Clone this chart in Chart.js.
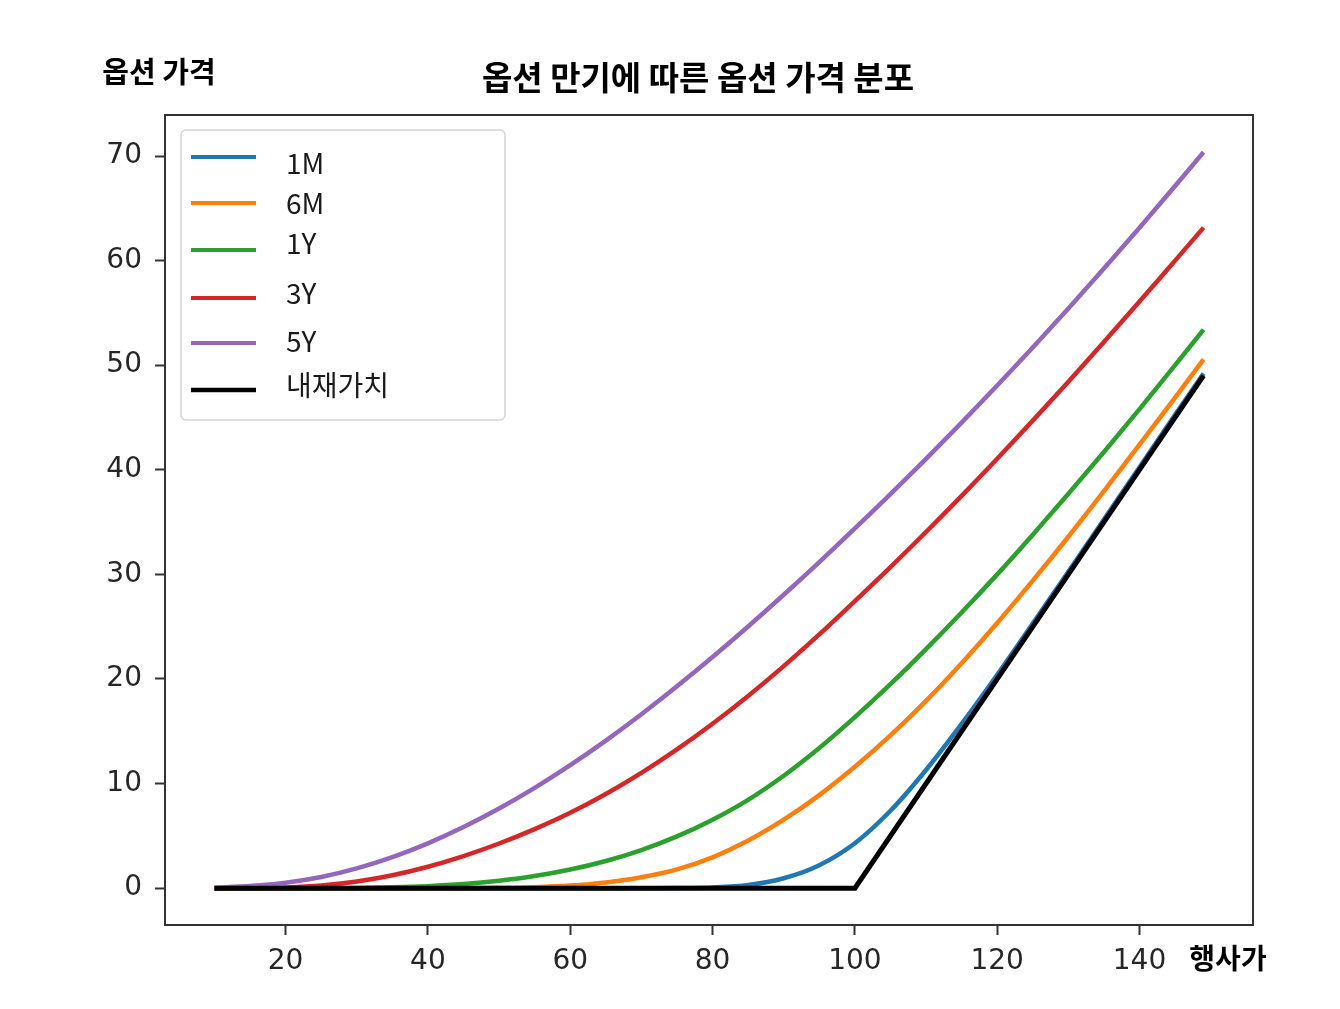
<!DOCTYPE html>
<html>
<head>
<meta charset="utf-8">
<script src="https://cdn.jsdelivr.net/npm/chart.js@4.4.1/dist/chart.umd.min.js"></script>
<style>
  html, body { margin: 0; padding: 0; background: #fff; }
  #optionChart { display: block; }
</style>
</head>
<body>
<canvas id="optionChart" width="1340" height="1009"></canvas>
<script>
// x values (strike) and option prices per maturity
const strikes = [10, 15, 20, 25, 30, 35, 40, 45, 50, 55, 60, 65, 70, 75, 80, 85, 90, 95, 100, 105, 110, 115, 120, 125, 130, 135, 140, 145, 149];
const price1M = [0, 0, 0, 0, 0, 0, 0, 0, 0, 0, 0, 0, 0, 0.01, 0.07, 0.3, 0.95, 2.2, 4.3, 7.4, 11.3, 15.7, 20.4, 25.3, 30.25, 35.25, 40.25, 45.25, 49.2];
const price6M = [0, 0, 0, 0, 0, 0, 0, 0.01, 0.03, 0.1, 0.25, 0.55, 1.05, 1.8, 2.95, 4.55, 6.55, 8.9, 11.6, 14.6, 17.9, 21.5, 25.35, 29.4, 33.6, 37.95, 42.4, 46.9, 50.55];
const price1Y = [0, 0, 0, 0, 0.02, 0.08, 0.19, 0.39, 0.71, 1.16, 1.78, 2.6, 3.65, 4.95, 6.55, 8.45, 10.75, 13.4, 16.35, 19.5, 22.85, 26.35, 30.0, 33.8, 37.7, 41.7, 45.8, 50.0, 53.4];
const price3Y = [0, 0.01, 0.07, 0.25, 0.63, 1.23, 2.05, 3.07, 4.27, 5.65, 7.21, 9.01, 11.03, 13.27, 15.72, 18.38, 21.23, 24.26, 27.45, 30.7, 34.05, 37.5, 41.05, 44.7, 48.42, 52.22, 56.08, 60.0, 63.15];
const price5Y = [0.05, 0.2, 0.52, 1.07, 1.89, 2.97, 4.29, 5.84, 7.61, 9.59, 11.76, 14.11, 16.63, 19.3, 22.1, 25.02, 28.05, 31.18, 34.4, 37.68, 41.05, 44.51, 48.06, 51.7, 55.43, 59.25, 63.15, 67.13, 70.37];

// intrinsic value: flat, then rising past 100
const intrinsicX = [10, 100, 149];
const intrinsicY = [0, 0, 49];

const seriesLabels = ['1M', '6M', '1Y', '3Y', '5Y', '내재가치'];
const seriesColors = ['#1f77b4', '#ff7f0e', '#2ca02c', '#d62728', '#9467bd', '#000000'];

const xTicks = [20, 40, 60, 80, 100, 120, 140];
const yTicks = [0, 10, 20, 30, 40, 50, 60, 70];

const chartTitle = '옵션 만기에 따른 옵션 가격 분포';
const yAxisLabel = '옵션 가격';
const xAxisLabel = '행사가';

function toPoints(xs, ys) {
    return xs.map((x, i) => ({ x: x, y: ys[i] }));
}

const priceSeries = [price1M, price6M, price1Y, price3Y, price5Y];

const datasets = priceSeries.map((ys, i) => ({
    label: seriesLabels[i],
    data: toPoints(strikes, ys),
    borderColor: seriesColors[i],
    borderWidth: 4.5,
    order: 5 - i   // later maturities drawn above earlier ones
}));

datasets.push({
    label: seriesLabels[5],
    data: toPoints(intrinsicX, intrinsicY),
    borderColor: seriesColors[5],
    borderWidth: 5,
    cubicInterpolationMode: 'default',
    tension: 0,
    order: 0
});

// Box around the plot area, like matplotlib spines
const framePlugin = {
    id: 'frame',
    afterDatasetsDraw(chart) {
        const { ctx, chartArea: a } = chart;
        ctx.save();
        ctx.strokeStyle = '#333333';
        ctx.lineWidth = 2;
        ctx.strokeRect(a.left, a.top, a.right - a.left, a.bottom - a.top);
        ctx.restore();
    }
};

// Legend inside the upper-left corner of the axes
const legendPlugin = {
    id: 'innerLegend',
    afterDatasetsDraw(chart) {
        const { ctx, chartArea: a } = chart;
        const bx = a.left + 16, by = a.top + 15, bw = 324, bh = 290;
        ctx.save();
        ctx.beginPath();
        ctx.roundRect(bx, by, bw, bh, 5);
        ctx.fillStyle = 'rgba(255,255,255,0.8)';
        ctx.fill();
        ctx.strokeStyle = '#d5d5d5';
        ctx.lineWidth = 1.5;
        ctx.stroke();

        // line sample y / text y offsets from the axes top
        const rows = [[42, 48], [88, 88], [135, 128], [183, 178], [228, 226], [275, 270]];
        ctx.font = "28px 'Noto Sans CJK KR', 'Noto Sans', sans-serif";
        ctx.textAlign = 'left';
        ctx.textBaseline = 'middle';
        chart.data.datasets.forEach((ds, i) => {
            const [ly, ty] = rows[i];
            ctx.beginPath();
            ctx.moveTo(a.left + 26, a.top + ly);
            ctx.lineTo(a.left + 91, a.top + ly);
            ctx.strokeStyle = ds.borderColor;
            ctx.lineWidth = i === 5 ? 4.5 : 4;
            ctx.stroke();
            ctx.fillStyle = '#1a1a1a';
            ctx.fillText(ds.label, a.left + 121, a.top + ty);
        });
        ctx.restore();
    }
};

// Title and axis captions
const captionPlugin = {
    id: 'captions',
    afterDraw(chart) {
        const ctx = chart.ctx;
        ctx.save();
        ctx.fillStyle = '#000';
        ctx.textAlign = 'center';
        ctx.textBaseline = 'middle';
        ctx.font = "bold 33px 'Noto Sans CJK KR', sans-serif";
        ctx.fillText(chartTitle, 698, 77);
        ctx.font = "bold 29px 'Noto Sans CJK KR', sans-serif";
        ctx.fillText(yAxisLabel, 159, 72);
        ctx.font = "bold 28px 'Noto Sans CJK KR', sans-serif";
        ctx.fillText(xAxisLabel, 1228, 958);
        ctx.restore();
    }
};

const tickFont = { family: 'DejaVu Sans', size: 28 };

new Chart(document.getElementById('optionChart'), {
    type: 'line',
    data: { datasets: datasets },
    options: {
        responsive: false,
        animation: false,
        devicePixelRatio: 1,
        layout: { padding: { left: 0, top: 115, right: 87, bottom: 0 } },
        elements: {
            point: { radius: 0 },
            line: { cubicInterpolationMode: 'monotone' }
        },
        plugins: {
            legend: { display: false },
            tooltip: { enabled: false }
        },
        scales: {
            x: {
                type: 'linear',
                min: 3.05,
                max: 155.95,
                afterBuildTicks: s => { s.ticks = xTicks.map(v => ({ value: v })); },
                afterFit: s => { s.height = 84; },
                border: { display: false },
                grid: { drawOnChartArea: false, drawTicks: true, tickLength: 10, tickWidth: 2, tickColor: '#333333' },
                ticks: { font: tickFont, color: '#262626', padding: 10, maxRotation: 0, autoSkip: false }
            },
            y: {
                type: 'linear',
                min: -3.52,
                max: 73.92,
                afterBuildTicks: s => { s.ticks = yTicks.map(v => ({ value: v })); },
                afterFit: s => { s.width = 165; },
                border: { display: false },
                grid: { drawOnChartArea: false, drawTicks: true, tickLength: 10, tickWidth: 2, tickColor: '#333333' },
                ticks: { font: tickFont, color: '#262626', padding: 13, autoSkip: false }
            }
        }
    },
    plugins: [framePlugin, legendPlugin, captionPlugin]
});
</script>
</body>
</html>
